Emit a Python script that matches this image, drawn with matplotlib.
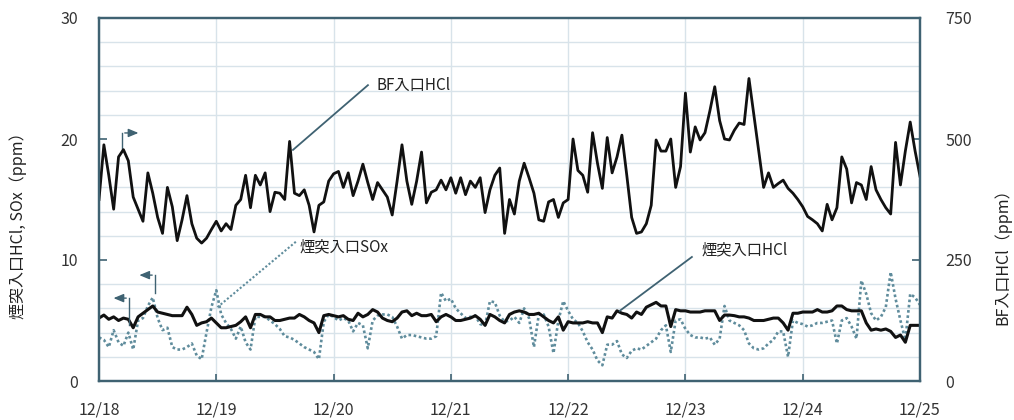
import numpy as np
import matplotlib
matplotlib.use("Agg")
import matplotlib.pyplot as plt

plt.rcParams['font.family'] = ['Noto Sans CJK JP', 'DejaVu Sans']

# hourly readings, 12/18 0:00 -> 12/25 0:00
days = ['12/18', '12/19', '12/20', '12/21', '12/22', '12/23', '12/24', '12/25']

# BF inlet HCl (right axis, ppm)
bf_hcl = [
    375, 488, 425, 355, 463, 478, 455, 380, 355, 330, 430, 388, 338, 305, 400, 360,
    290, 333, 383, 325, 295, 285, 295, 313, 330,
    310, 325, 313, 363, 375, 425, 358, 425, 405, 430, 350, 390, 388, 375, 495, 388,
    383, 395, 363, 308, 363, 370, 413, 428,
    433, 400, 430, 383, 413, 448, 410, 375, 410, 395, 380, 343, 413, 488, 413, 365,
    413, 473, 368, 390, 395, 415, 395, 420,
    388, 420, 385, 413, 400, 420, 348, 395, 425, 440, 305, 375, 345, 413, 450, 420,
    388, 333, 330, 370, 375, 338, 368, 375,
    500, 435, 425, 390, 513, 450, 398, 503, 430, 463, 508, 425, 338, 305, 308, 325,
    363, 498, 475, 475, 500, 400, 443, 595,
    473, 525, 498, 513, 558, 608, 538, 500, 498, 518, 533, 530, 625, 550, 475, 400,
    430, 400, 408, 415, 398, 388, 375, 360,
    340, 333, 325, 310, 365, 333, 358, 463, 438, 368, 410, 405, 375, 443, 395, 375,
    358, 345, 493, 405, 475, 535, 475, 423,
]

# stack inlet HCl (left axis, ppm)
stack_hcl = [
    5.2, 5.45, 5.1, 5.3, 5.0, 5.2, 5.1, 4.4, 5.3, 5.6, 5.9, 6.2, 5.7, 5.6, 5.5, 5.4,
    5.4, 5.4, 6.1, 5.5, 4.6, 4.8, 4.9, 5.2, 4.8,
    4.4, 4.4, 4.5, 4.6, 4.9, 5.3, 4.4, 5.5, 5.5, 5.3, 5.3, 5.0, 5.0, 5.1, 5.2, 5.2,
    5.5, 5.3, 5.0, 4.8, 4.0, 5.4, 5.5, 5.4,
    5.3, 5.4, 5.1, 5.0, 5.6, 5.3, 5.5, 5.9, 5.7, 5.2, 5.0, 4.9, 5.2, 5.7, 5.8, 5.4,
    5.6, 5.4, 5.4, 5.5, 4.9, 5.3, 5.5, 5.3,
    5.0, 5.0, 5.1, 5.2, 5.4, 5.1, 4.6, 5.5, 5.3, 5.0, 4.8, 5.5, 5.7, 5.8, 5.7, 5.5,
    5.5, 5.6, 5.3, 5.0, 4.8, 5.3, 4.2, 4.9,
    4.8, 4.8, 4.8, 4.9, 4.8, 4.8, 4.0, 5.3, 5.2, 5.8, 5.6, 5.5, 5.2, 5.7, 5.5, 6.1,
    6.3, 6.5, 6.2, 6.2, 4.5, 5.9, 5.8, 5.8,
    5.7, 5.7, 5.7, 5.8, 5.8, 5.8, 5.0, 5.45, 5.45, 5.4, 5.3, 5.3, 5.2, 5.0, 5.0, 5.0,
    5.1, 5.2, 5.2, 4.8, 4.2, 5.6, 5.6, 5.7,
    5.7, 5.7, 5.9, 5.7, 5.7, 5.8, 6.2, 6.2, 5.9, 5.8, 5.8, 5.8, 4.8, 4.2, 4.3, 4.2,
    4.3, 4.1, 3.6, 3.8, 3.2, 4.6, 4.6, 4.6,
]

# stack inlet SOx (left axis, ppm)
stack_sox = [
    3.6, 3.4, 2.8, 4.2, 3.2, 2.9, 4.0, 2.6, 5.0, 5.2, 6.2, 6.9, 5.2, 4.2, 4.4, 2.8,
    2.6, 2.6, 2.8, 3.1, 2.1, 1.8, 4.0, 6.1, 7.5,
    5.5, 4.8, 4.3, 3.5, 4.5, 3.2, 2.6, 5.3, 5.3, 5.3, 5.0, 4.7, 4.3, 3.7, 3.6, 3.4,
    3.1, 2.8, 2.6, 2.4, 1.8, 4.9, 5.5, 5.3,
    5.0, 5.2, 5.0, 4.1, 4.8, 4.6, 2.7, 5.0, 5.4, 5.5, 5.5, 5.3, 4.5, 3.5, 3.8, 3.8,
    3.7, 3.6, 3.5, 3.5, 3.7, 7.3, 6.6, 6.8,
    6.0, 5.6, 5.2, 5.3, 5.4, 4.7, 4.6, 6.6, 6.5, 5.4, 4.9, 5.0, 5.3, 4.8, 6.0, 5.2,
    2.8, 5.5, 5.5, 4.5, 2.3, 5.0, 6.6, 5.8,
    5.1, 4.8, 4.1, 3.2, 2.6, 1.7, 1.3, 3.0, 3.0, 3.3, 2.2, 1.9, 2.5, 2.7, 2.6, 2.9,
    3.2, 3.5, 4.2, 4.6, 2.4, 5.0, 5.1, 4.3,
    3.8, 3.6, 3.6, 3.5, 3.6, 3.0, 3.5, 6.2, 5.0, 4.8, 4.6, 4.2, 3.1, 2.7, 2.6, 2.7,
    3.1, 3.4, 4.1, 4.1, 2.0, 5.0, 4.8, 4.7,
    4.5, 4.6, 4.8, 4.8, 4.9, 5.0, 3.1, 5.0, 5.2, 4.5, 3.5, 8.3, 7.2, 5.6, 5.0, 5.3,
    6.1, 9.0, 6.8, 5.0, 3.4, 7.2, 6.9, 6.3,
]

frame = '#3f6272'
gridc = '#d8e3ea'
soxc = '#5f8c9c'

t = np.arange(len(bf_hcl)) / 24.0

fig = plt.figure(figsize=(10.14, 4.2), dpi=100)
ax = fig.add_axes([99 / 1014, 39 / 420, 821 / 1014, 363 / 420])
ax2 = ax.twinx()

ax.set_xlim(0, 7)
ax.set_ylim(0, 30)
ax2.set_ylim(0, 750)

ax.set_xticks(range(8))
ax.set_xticklabels(days)
ax.set_yticks([0, 10, 20, 30])
ax.set_yticks(np.arange(0, 31, 2), minor=True)
ax2.set_yticks([0, 250, 500, 750])

ax.grid(True, which='major', axis='x', color=gridc, lw=1.0)
ax.grid(True, which='minor', axis='y', color=gridc, lw=1.0)
ax.set_axisbelow(True)

for a in (ax, ax2):
    for s in a.spines.values():
        s.set_color(frame)
        s.set_linewidth(1.6)
ax.tick_params(axis='x', direction='in', length=5, width=1.2, color=frame,
               pad=15, labelsize=11.5, labelcolor='#333333')
ax.tick_params(axis='y', which='major', direction='in', length=6, width=1.2,
               color=frame, pad=15, labelsize=11.5, labelcolor='#333333')
ax.tick_params(axis='y', which='minor', length=0)
ax2.tick_params(axis='y', direction='in', length=6, width=1.2, color=frame,
                pad=18, labelsize=11.5, labelcolor='#333333')

ax.plot(t, stack_sox, color=soxc, lw=1.9, ls=(0, (1, 1)))
ax.plot(t, stack_hcl, color='#111111', lw=2.2)
ax2.plot(t, bf_hcl, color='#111111', lw=2.0)

# labels with leader lines (left-axis data coordinates)
ax.plot([1.654, 2.293], [19.1, 24.45], color=frame, lw=1.3)
ax.text(2.37, 24.45, 'BF入口HCl', fontsize=11, va='center', ha='left', color='#222222')

ax.plot([1.01, 1.69], [6.1, 11.6], color=soxc, lw=1.5, ls=(0, (1, 1)))
ax.text(1.71, 11.1, '煙突入口SOx', fontsize=11, va='center', ha='left', color='#222222')

ax.plot([4.44, 5.055], [5.8, 10.25], color=frame, lw=1.3)
ax.text(5.14, 10.8, '煙突入口HCl', fontsize=11, va='center', ha='left', color='#222222')

# axis indicator arrows
arrow = dict(arrowstyle='-|>,head_length=0.6,head_width=0.25', color=frame, lw=1.0)
ax.plot([0.196, 0.196], [19.1, 20.5], color=frame, lw=1.0)
ax.annotate('', xy=(0.36, 20.5), xytext=(0.196, 20.5), arrowprops=arrow)
ax.plot([0.256, 0.256], [4.6, 6.85], color=frame, lw=1.0)
ax.annotate('', xy=(0.10, 6.85), xytext=(0.256, 6.85), arrowprops=arrow)
ax.plot([0.477, 0.477], [7.3, 8.75], color=frame, lw=1.0)
ax.annotate('', xy=(0.32, 8.75), xytext=(0.477, 8.75), arrowprops=arrow)

fig.text(18 / 1014, 1 - 222 / 420, '煙突入口HCl, SOx（ppm）', rotation=90,
         fontsize=11.5, ha='center', va='center', color='#222222')
fig.text(1003 / 1014, 1 - 253 / 420, 'BF入口HCl（ppm）', rotation=90,
         fontsize=11.5, ha='center', va='center', color='#222222')

fig.savefig('out.png', dpi=100)
